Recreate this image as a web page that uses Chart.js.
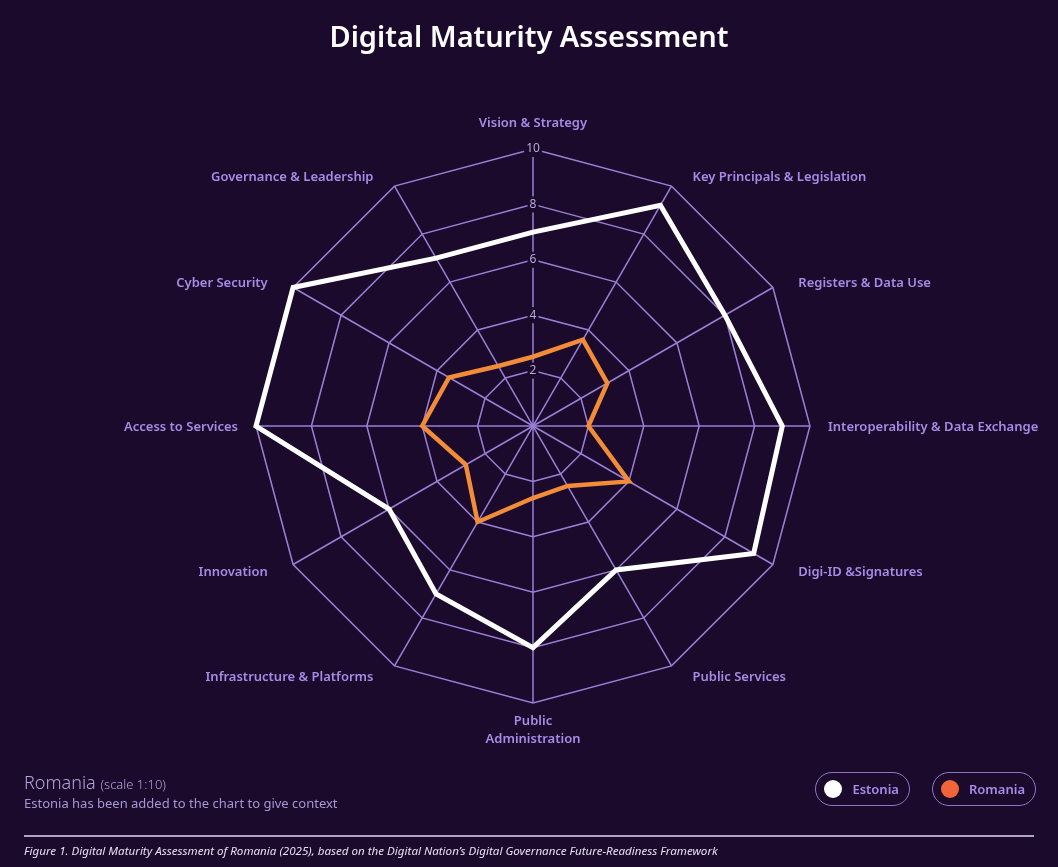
<!DOCTYPE html>
<html>
<head>
<meta charset="utf-8">
<title>Digital Maturity Assessment</title>
<script src="https://cdn.jsdelivr.net/npm/chart.js@4.4.1/dist/chart.umd.min.js"></script>
<style>
  html, body {
    margin: 0;
    padding: 0;
    width: 1058px;
    height: 867px;
    overflow: hidden;
    background: #1b0a2b;
    font-family: "Noto Sans", sans-serif;
  }
  #chartBox {
    position: absolute;
    left: 0;
    top: 0;
    width: 1058px;
    height: 867px;
  }
  h1 {
    position: absolute;
    left: 0;
    top: 21px;
    width: 1058px;
    margin: 0;
    text-align: center;
    color: #ffffff;
    font-size: 29px;
    line-height: 29px;
    font-weight: 600;
  }
  .note {
    position: absolute;
    left: 24px;
    top: 771px;
    color: #b3a2dc;
  }
  .note .country { font-size: 18px; line-height: 22px; font-weight: 300; }
  .note .country small { font-size: 13px; }
  .note .context { font-size: 13px; line-height: 17px; color: #a895d6; }
  #legend {
    position: absolute;
    right: 22px;
    top: 772px;
    display: flex;
    gap: 22px;
  }
  .pill {
    display: flex;
    align-items: center;
    height: 32px;
    padding: 0 10px 0 8px;
    border: 1.5px solid #8e77c6;
    border-radius: 18px;
    color: #a98ae6;
    font-size: 13px;
    font-weight: 600;
  }
  .pill .dot {
    width: 18px;
    height: 18px;
    border-radius: 50%;
    margin-right: 10px;
  }
  .rule {
    position: absolute;
    left: 24px;
    top: 835px;
    width: 1010px;
    height: 2px;
    background: #aea4c6;
  }
  .caption {
    position: absolute;
    left: 24px;
    top: 843px;
    color: #e6dff2;
    font-size: 11.6px;
    font-style: italic;
  }
</style>
</head>
<body>
<div id="chartBox"><canvas id="radarCanvas"></canvas></div>
<h1>Digital Maturity Assessment</h1>
<div class="note">
  <div class="country">Romania <small>(scale 1:10)</small></div>
  <div class="context">Estonia has been added to the chart to give context</div>
</div>
<div id="legend"></div>
<div class="rule"></div>
<div class="caption">Figure 1. Digital Maturity Assessment of Romania (2025), based on the Digital Nation’s Digital Governance Future-Readiness Framework</div>

<script>
// categories, clockwise from the top
const categories = [
    'Vision & Strategy',
    'Key Principals & Legislation',
    'Registers & Data Use',
    'Interoperability & Data Exchange',
    'Digi-ID &Signatures',
    'Public Services',
    ['Public', 'Administration'],
    'Infrastructure & Platforms',
    'Innovation',
    'Access to Services',
    'Cyber Security',
    'Governance & Leadership'
];

const estoniaValues = [7, 9.2, 8, 9, 9.2, 6, 8, 7, 6, 10, 10, 7];
const romaniaValues = [2.5, 3.6, 3.1, 2, 4, 2.5, 2.6, 4, 2.8, 4, 3.5, 2.5];

// radial scale: 0 to 10, rings every 2
const scaleMin = 0;
const scaleMax = 10;
const scaleStep = 2;

const bgColor = '#1b0a2b';
const gridColor = '#9a80d8';
const labelColor = '#a98ae6';

document.addEventListener('DOMContentLoaded', function() {
    const ctx = document.getElementById('radarCanvas').getContext('2d');

    // axis names drawn by hand so they can sit beside the outer ring like the original
    const axisLabels = {
        id: 'axisLabels',
        afterDatasetsDraw(chart) {
            const scale = chart.scales.r;
            const c = chart.ctx;
            const outer = scale.drawingArea;
            c.save();
            c.font = '600 13px "Noto Sans"';
            c.fillStyle = labelColor;
            categories.forEach(function(label, i) {
                const lines = [].concat(label);
                const angle = scale.getIndexAngle(i);
                const sin = Math.sin(angle);
                const cos = Math.cos(angle);
                if (Math.abs(sin) < 0.01) {
                    c.textAlign = 'center';
                    if (cos > 0) {
                        const p = scale.getPointPosition(i, outer + 19);
                        c.textBaseline = 'bottom';
                        lines.forEach((t, k) => c.fillText(t, p.x, p.y - (lines.length - 1 - k) * 18));
                    } else {
                        const p = scale.getPointPosition(i, outer + 12);
                        c.textBaseline = 'top';
                        lines.forEach((t, k) => c.fillText(t, p.x, p.y + k * 18));
                    }
                } else {
                    const p = scale.getPointPosition(i, outer + 12);
                    const nudge = Math.abs(cos) < 0.01 ? 6 : 15;
                    const x = p.x + (sin > 0 ? nudge : -nudge);
                    const y = p.y + 1.5;
                    c.textAlign = sin > 0 ? 'left' : 'right';
                    c.textBaseline = 'middle';
                    lines.forEach((t, k) => c.fillText(t, x, y + (k - (lines.length - 1) / 2) * 18));
                }
            });
            c.restore();
        }
    };

    const chart = new Chart(ctx, {
        type: 'radar',
        data: {
            labels: categories,
            datasets: [{
                label: 'Estonia',
                data: estoniaValues,
                borderColor: '#ffffff',
                pointBackgroundColor: '#ffffff',
                borderWidth: 5,
                fill: false,
                pointRadius: 0,
                pointHoverRadius: 0
            }, {
                label: 'Romania',
                data: romaniaValues,
                borderColor: '#f28c38',
                pointBackgroundColor: '#f0643a',
                borderWidth: 4.5,
                fill: false,
                pointRadius: 0,
                pointHoverRadius: 0
            }]
        },
        options: {
            responsive: true,
            maintainAspectRatio: false,
            animation: false,
            layout: {
                padding: { left: 8.5, right: 0, top: 141, bottom: 155.5 }
            },
            plugins: {
                legend: { display: false },
                tooltip: { enabled: false }
            },
            scales: {
                r: {
                    min: scaleMin,
                    max: scaleMax,
                    ticks: {
                        stepSize: scaleStep,
                        color: '#b6a8dc',
                        font: { family: '"Noto Sans"', size: 12 },
                        backdropColor: bgColor,
                        backdropPadding: 2
                    },
                    grid: { color: gridColor, lineWidth: 1.5 },
                    angleLines: { color: gridColor, lineWidth: 1.5 },
                    pointLabels: { display: false }
                }
            }
        },
        plugins: [axisLabels]
    });

    // html legend built from the datasets
    const legend = document.getElementById('legend');
    chart.data.datasets.forEach(function(ds) {
        const pill = document.createElement('div');
        pill.className = 'pill';
        const dot = document.createElement('span');
        dot.className = 'dot';
        dot.style.background = ds.pointBackgroundColor;
        pill.appendChild(dot);
        pill.appendChild(document.createTextNode(ds.label));
        legend.appendChild(pill);
    });
});
</script>
</body>
</html>
